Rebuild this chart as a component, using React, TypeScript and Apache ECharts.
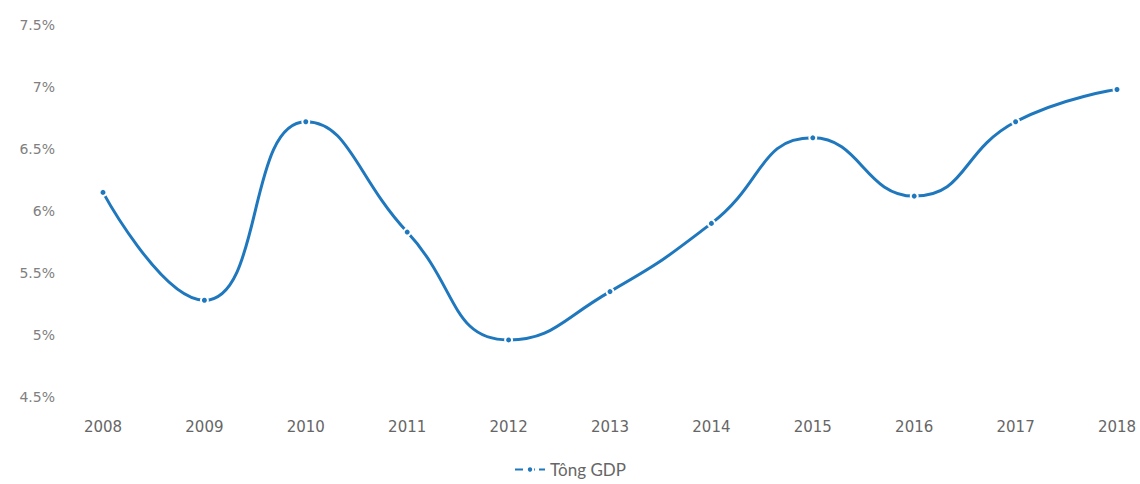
import React, { useEffect, useRef } from "react";
import * as echarts from "echarts";

const years = ["2008", "2009", "2010", "2011", "2012", "2013", "2014", "2015", "2016", "2017", "2018"];
const gdp = [6.15, 5.28, 6.72, 5.83, 4.96, 5.35, 5.9, 6.59, 6.12, 6.72, 6.98];
const seriesName = "Tông GDP";

export default function App() {
  const ref = useRef<HTMLDivElement>(null);
  useEffect(() => {
    if (!ref.current) return;
    const chart = echarts.init(ref.current, undefined, { renderer: "svg" });
    chart.setOption({
      animation: false,
      backgroundColor: "#ffffff",
      grid: { left: 103, right: 23, top: 25, bottom: 87, containLabel: false },
      legend: {
        data: [seriesName],
        bottom: 1,
        left: "center",
        itemWidth: 30,
        itemHeight: 8,
        itemGap: 10,
        textStyle: { color: "#666", fontSize: 17, fontFamily: "Lato, 'Open Sans', sans-serif" },
        lineStyle: { type: "dashed", width: 2 },
      },
      xAxis: {
        type: "category",
        data: years,
        boundaryGap: false,
        axisLine: { show: false },
        axisTick: { show: false },
        splitLine: { show: false },
        axisLabel: { color: "#666", fontSize: 15, margin: 22, fontFamily: "'DejaVu Sans', sans-serif" },
      },
      yAxis: {
        type: "value",
        min: 4.5,
        max: 7.5,
        interval: 0.5,
        axisLine: { show: false },
        axisTick: { show: false },
        splitLine: { show: false },
        axisLabel: {
          color: "#808080",
          fontSize: 14,
          margin: 48,
          fontFamily: "'DejaVu Sans', sans-serif",
          formatter: (v: number) => `${v}%`,
        },
      },
      series: [
        {
          name: seriesName,
          type: "line",
          data: gdp,
          smooth: 0.5,
          symbol: "circle",
          symbolSize: 7,
          showAllSymbol: true,
          lineStyle: { color: "#1f78bd", width: 3 },
          itemStyle: { color: "#1f78bd", borderColor: "#ffffff", borderWidth: 2 },
        },
      ],
    });
    return () => chart.dispose();
  }, []);
  return <div ref={ref} style={{ position: "fixed", left: 0, top: 0, width: 1140, height: 484 }} />;
}
